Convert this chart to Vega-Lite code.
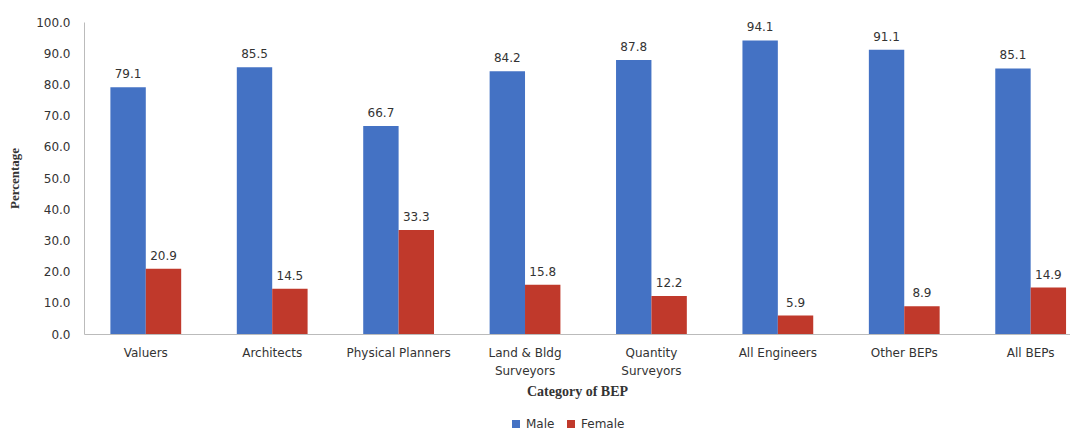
{
  "$schema": "https://vega.github.io/schema/vega-lite/v6.json",
  "width": 986,
  "height": 312,
  "autosize": "none",
  "padding": {"left": 84, "top": 22, "right": 0, "bottom": 98},
  "background": "white",
  "data": {
    "values": [
      {"category": "Valuers", "gender": "Male", "value": 79.1},
      {"category": "Valuers", "gender": "Female", "value": 20.9},
      {"category": "Architects", "gender": "Male", "value": 85.5},
      {"category": "Architects", "gender": "Female", "value": 14.5},
      {"category": "Physical Planners", "gender": "Male", "value": 66.7},
      {"category": "Physical Planners", "gender": "Female", "value": 33.3},
      {"category": "Land & Bldg Surveyors", "gender": "Male", "value": 84.2},
      {"category": "Land & Bldg Surveyors", "gender": "Female", "value": 15.8},
      {"category": "Quantity Surveyors", "gender": "Male", "value": 87.8},
      {"category": "Quantity Surveyors", "gender": "Female", "value": 12.2},
      {"category": "All Engineers", "gender": "Male", "value": 94.1},
      {"category": "All Engineers", "gender": "Female", "value": 5.9},
      {"category": "Other BEPs", "gender": "Male", "value": 91.1},
      {"category": "Other BEPs", "gender": "Female", "value": 8.9},
      {"category": "All BEPs", "gender": "Male", "value": 85.1},
      {"category": "All BEPs", "gender": "Female", "value": 14.9}
    ]
  },
  "encoding": {
    "x": {
      "field": "category",
      "type": "nominal",
      "sort": null,
      "scale": {"paddingInner": 0.44, "paddingOuter": 0.12, "align": 0.87},
      "axis": {
        "title": "Category of BEP",
        "titleFont": "Liberation Serif",
        "titleFontSize": 14,
        "titleFontWeight": "bold",
        "titleColor": "#333333",
        "titlePadding": 8,
        "labelAngle": 0,
        "labelFont": "DejaVu Sans",
        "labelFontSize": 12,
        "labelColor": "#333333",
        "labelPadding": 13,
        "labelLineHeight": 18,
        "ticks": false,
        "domainColor": "#bbbbbb",
        "labelExpr": "datum.value == 'Land & Bldg Surveyors' ? ['Land & Bldg', 'Surveyors'] : datum.value == 'Quantity Surveyors' ? ['Quantity', 'Surveyors'] : datum.value"
      }
    },
    "xOffset": {"field": "gender", "type": "nominal", "sort": ["Male", "Female"]},
    "y": {
      "field": "value",
      "type": "quantitative",
      "scale": {"domain": [0, 100], "nice": false},
      "axis": {
        "title": "Percentage",
        "titleFont": "Liberation Serif",
        "titleFontSize": 13,
        "titleFontWeight": "bold",
        "titleColor": "#333333",
        "titlePadding": 14,
        "values": [0, 10, 20, 30, 40, 50, 60, 70, 80, 90, 100],
        "format": ".1f",
        "grid": false,
        "ticks": false,
        "labelFont": "DejaVu Sans",
        "labelFontSize": 12,
        "labelColor": "#333333",
        "labelPadding": 14,
        "domainColor": "#bbbbbb"
      }
    }
  },
  "layer": [
    {
      "mark": {"type": "bar"},
      "encoding": {
        "color": {
          "field": "gender",
          "type": "nominal",
          "sort": ["Male", "Female"],
          "scale": {"domain": ["Male", "Female"], "range": ["#4472C4", "#C0392B"]},
          "legend": {
            "title": null,
            "orient": "none",
            "legendX": 426,
            "legendY": 396,
            "direction": "horizontal",
            "symbolType": "square",
            "symbolSize": 64,
            "labelFont": "DejaVu Sans",
            "labelFontSize": 12,
            "labelColor": "#333333",
            "columnPadding": 10
          }
        }
      }
    },
    {
      "mark": {"type": "text", "baseline": "bottom", "dy": -6, "font": "DejaVu Sans", "fontSize": 12, "color": "#333333"},
      "encoding": {
        "text": {"field": "value", "type": "quantitative", "format": ".1f"}
      }
    }
  ],
  "config": {"view": {"stroke": null}}
}
